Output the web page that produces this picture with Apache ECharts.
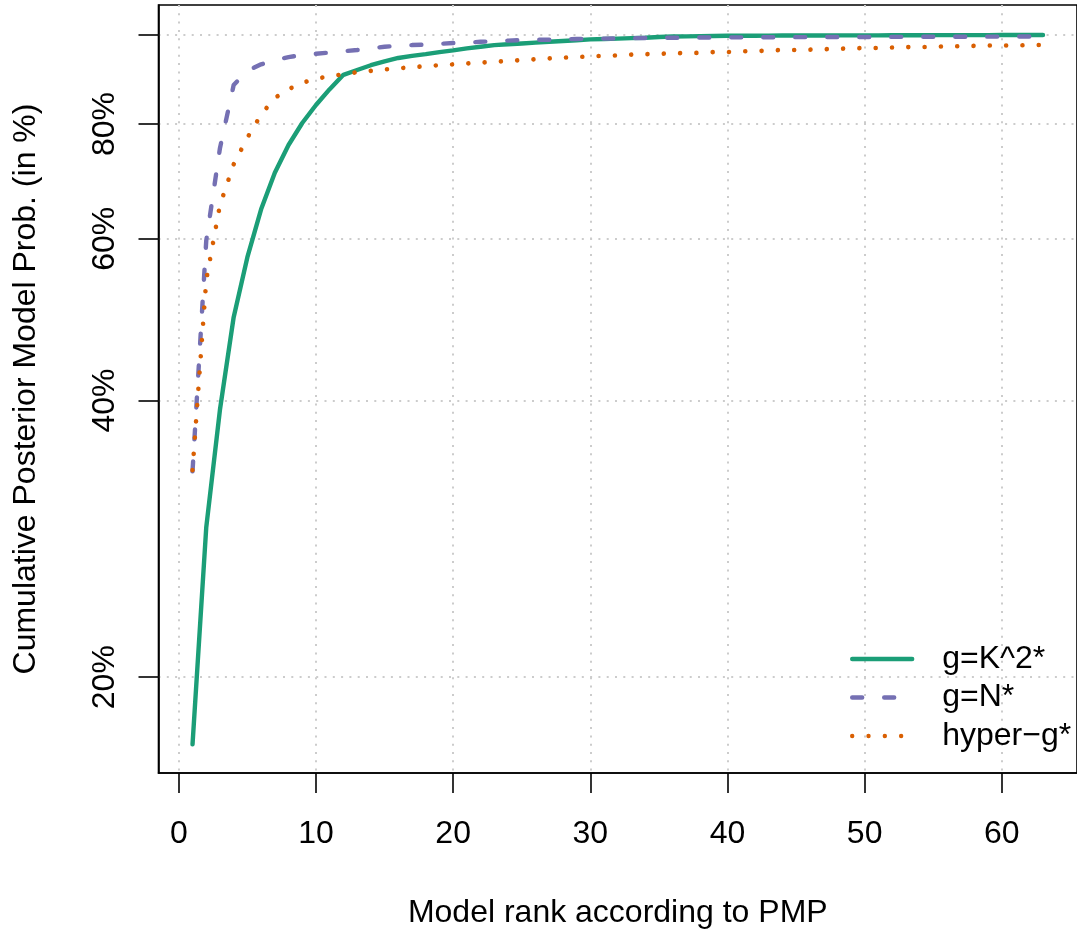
<!DOCTYPE html>
<html>
<head>
<meta charset="utf-8">
<script src="https://cdn.jsdelivr.net/npm/echarts@6/dist/echarts.min.js"></script>
<style>
html,body{margin:0;padding:0;background:#fff;}
#chart{width:1077px;height:934px;}
</style>
</head>
<body>
<div id="chart"></div>
<script>
// ---- data (cumulative posterior model probability, in %) ----
const ranks = [1,2,3,4,5,6,7,8,9,10,11,12,13,14,15,16,17,18,19,20,21,22,23,24,25,26,27,28,29,30,31,32,33,34,35,36,37,38,39,40,41,42,43,44,45,46,47,48,49,50,51,52,53,54,55,56,57,58,59,60,61,62,63];
const gK2 = [16.9,29.1,39.1,49.3,57.3,64.6,70.8,75.9,80.2,83.9,87.3,90.5,91.6,92.7,93.6,94.4,94.9,95.3,95.8,96.2,96.7,97.1,97.5,97.7,97.9,98.1,98.3,98.5,98.7,98.9,99.0,99.1,99.2,99.3,99.5,99.6,99.65,99.7,99.75,99.8,99.8,99.82,99.84,99.85,99.86,99.87,99.88,99.89,99.9,99.9,99.91,99.92,99.93,99.94,99.95,99.95,99.96,99.97,99.97,99.98,99.98,99.99,100];
const gN = [33.5,59.7,75.3,88.2,91.4,92.9,93.9,94.6,95.1,95.4,95.7,96.0,96.3,96.7,97.1,97.3,97.5,97.6,97.8,98.0,98.1,98.3,98.4,98.6,98.7,98.8,98.8,98.9,99.0,99.1,99.1,99.15,99.2,99.25,99.3,99.3,99.35,99.35,99.4,99.4,99.4,99.42,99.44,99.45,99.46,99.47,99.48,99.49,99.5,99.5,99.51,99.52,99.53,99.54,99.55,99.55,99.56,99.57,99.58,99.59,99.6,99.6,99.6];
const hyperG = [33.6,54.1,65.3,72.3,77.3,81.9,85.4,87.3,88.7,89.6,90.2,90.6,91.1,91.4,91.7,92.0,92.2,92.5,92.7,92.9,93.1,93.3,93.5,93.7,93.9,94.1,94.3,94.5,94.6,94.8,94.9,95.0,95.2,95.3,95.4,95.5,95.6,95.6,95.8,95.8,96.0,96.0,96.2,96.3,96.3,96.4,96.5,96.6,96.7,96.8,96.8,96.9,97.0,97.0,97.1,97.2,97.2,97.3,97.4,97.4,97.4,97.5,97.5];
const seriesNames = ['g=K^2*', 'g=N*', 'hyper\u2212g*'];
const xTicks = [0,10,20,30,40,50,60];
const yTicks = [20,40,60,80,100];
const yLabels = [20,40,60,80];

const FONT = "'Liberation Sans', Arial, Helvetica, sans-serif";
const pairs = (ys) => ranks.map((r, i) => [r, ys[i]]);
const gridLine = {show: true, lineStyle: {color: '#cccccc', width: 2, type: [2, 6.3]}};

const chart = echarts.init(document.getElementById('chart'), null, {renderer: 'canvas'});
chart.setOption({
  animation: false,
  backgroundColor: '#fff',
  textStyle: {fontFamily: FONT},
  grid: {left: 158.5, top: 5, width: 925.5, height: 768, show: true, borderColor: '#000', borderWidth: 1.6, backgroundColor: 'transparent'},
  xAxis: {
    type: 'value', min: -1.48, max: 65.48,
    name: 'Model rank according to PMP', nameLocation: 'middle', nameGap: 124,
    nameTextStyle: {fontFamily: FONT, fontSize: 32, color: '#000'},
    axisLine: {show: true, onZero: false, lineStyle: {color: '#000', width: 1.6}},
    axisTick: {show: true, length: 20, customValues: xTicks, lineStyle: {color: '#000', width: 1.6}},
    axisLabel: {show: true, customValues: xTicks, margin: 45, fontFamily: FONT, fontSize: 32, color: '#000'},
    splitLine: gridLine
  },
  yAxis: {
    type: 'log', logBase: 10, min: 15.73, max: 107.8,
    name: 'Cumulative Posterior Model Prob. (in %)', nameLocation: 'middle', nameGap: 116,
    nameTextStyle: {fontFamily: FONT, fontSize: 32, color: '#000'},
    axisLine: {show: true, onZero: false, lineStyle: {color: '#000', width: 1.6}},
    axisTick: {show: true, length: 20, customValues: yTicks, lineStyle: {color: '#000', width: 1.6}},
    axisLabel: {show: true, customValues: yLabels, rotate: 90, margin: 37, fontFamily: FONT, fontSize: 32, color: '#000', formatter: '{value}%'},
    splitLine: gridLine
  },
  legend: {
    left: 845, top: 638, orient: 'vertical', itemWidth: 60, itemHeight: 20, itemGap: 6.5,
    icon: 'inherit',
    itemStyle: {opacity: 0},
    lineStyle: {width: 4.4, cap: 'round'},
    textStyle: {fontFamily: FONT, fontSize: 32, color: '#000', lineHeight: 20, padding: [0, 0, 0, 25]},
    data: seriesNames
  },
  series: [
    {name: seriesNames[0], type: 'line', data: pairs(gK2), symbol: 'none', color: '#1B9E77',
     lineStyle: {color: '#1B9E77', width: 4.4, cap: 'round', join: 'round'}},
    {name: seriesNames[1], type: 'line', data: pairs(gN), symbol: 'none', color: '#7570B3',
     lineStyle: {color: '#7570B3', width: 4.4, type: [10, 22], cap: 'round', join: 'round'}},
    {name: seriesNames[2], type: 'line', data: pairs(hyperG), symbol: 'none', color: '#D95F02',
     lineStyle: {color: '#D95F02', width: 4.6, type: [0.01, 16.3], cap: 'round', join: 'round'}}
  ]
});
</script>
</body>
</html>
